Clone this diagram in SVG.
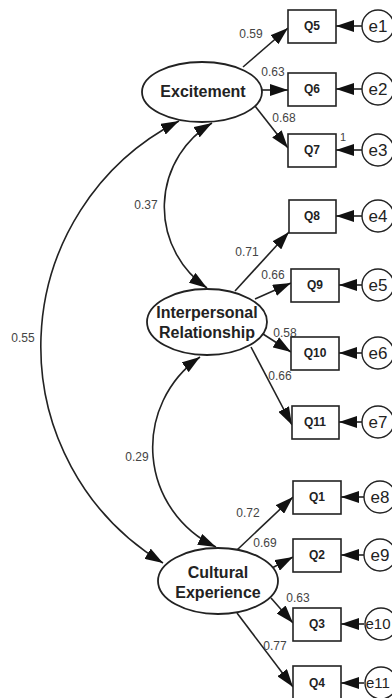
<svg xmlns="http://www.w3.org/2000/svg" width="392" height="698" viewBox="0 0 392 698">
<style>
.lat{fill:#fff;stroke:#222;stroke-width:1.8}
.box{fill:#fff;stroke:#222;stroke-width:1.6}
.err{fill:#fff;stroke:#222;stroke-width:1.4}
.lt{font-family:"Liberation Sans",Arial,sans-serif;font-weight:bold;font-size:16px;fill:#222;text-anchor:middle}
.bt{font-family:"Liberation Sans",Arial,sans-serif;font-weight:bold;font-size:12px;fill:#222;text-anchor:middle}
.et{font-family:"Liberation Sans",Arial,sans-serif;font-size:17px;fill:#222;text-anchor:middle}
.nt{font-family:"Liberation Sans",Arial,sans-serif;font-size:12px;fill:#444;text-anchor:middle}
.ln{fill:none;stroke:#222;stroke-width:1.6}
</style>
<defs>
<marker id="ah" markerWidth="18" markerHeight="12" refX="18" refY="6" orient="auto-start-reverse" markerUnits="userSpaceOnUse">
<path d="M0,0 L18,6 L0,12 z" fill="#111"/>
</marker>
</defs>
<g id="connectors">
<path class="ln" d="M179,121 A253,253 0 0 0 163,563" marker-start="url(#ah)" marker-end="url(#ah)"/>
<path class="ln" d="M212,123 A98,98 0 0 0 207,288" marker-start="url(#ah)" marker-end="url(#ah)"/>
<path class="ln" d="M200,357 A110,110 0 0 0 216,547" marker-start="url(#ah)" marker-end="url(#ah)"/>
<line class="ln" x1="243" y1="67" x2="288" y2="28" marker-end="url(#ah)"/>
<line class="ln" x1="262" y1="90" x2="288" y2="90" marker-end="url(#ah)"/>
<line class="ln" x1="255" y1="106" x2="288" y2="148" marker-end="url(#ah)"/>
<line class="ln" x1="235" y1="291" x2="289" y2="232" marker-end="url(#ah)"/>
<line class="ln" x1="255" y1="299" x2="291" y2="283" marker-end="url(#ah)"/>
<line class="ln" x1="263" y1="334" x2="291" y2="352" marker-end="url(#ah)"/>
<line class="ln" x1="251" y1="347" x2="292" y2="425" marker-end="url(#ah)"/>
<line class="ln" x1="237" y1="550" x2="293" y2="497" marker-end="url(#ah)"/>
<line class="ln" x1="272" y1="568" x2="293" y2="557" marker-end="url(#ah)"/>
<line class="ln" x1="271" y1="598" x2="293" y2="623" marker-end="url(#ah)"/>
<line class="ln" x1="237" y1="613" x2="293" y2="687" marker-end="url(#ah)"/>
<line class="ln" x1="362" y1="26" x2="336" y2="26" marker-end="url(#ah)"/>
<line class="ln" x1="362" y1="89" x2="336" y2="89" marker-end="url(#ah)"/>
<line class="ln" x1="362" y1="150" x2="336" y2="150" marker-end="url(#ah)"/>
<line class="ln" x1="362" y1="216" x2="336" y2="216" marker-end="url(#ah)"/>
<line class="ln" x1="362" y1="285" x2="339" y2="285" marker-end="url(#ah)"/>
<line class="ln" x1="362" y1="353" x2="339" y2="353" marker-end="url(#ah)"/>
<line class="ln" x1="362" y1="422" x2="339" y2="422" marker-end="url(#ah)"/>
<line class="ln" x1="364" y1="497" x2="341" y2="497" marker-end="url(#ah)"/>
<line class="ln" x1="364" y1="555" x2="341" y2="555" marker-end="url(#ah)"/>
<line class="ln" x1="364" y1="624" x2="341" y2="624" marker-end="url(#ah)"/>
<line class="ln" x1="364" y1="683" x2="341" y2="683" marker-end="url(#ah)"/>
<text class="nt" x="251" y="38">0.59</text>
<text class="nt" x="273" y="76">0.63</text>
<text class="nt" x="284" y="122">0.68</text>
<text class="nt" x="343" y="141" style="font-size:11px">1</text>
<text class="nt" x="146" y="209">0.37</text>
<text class="nt" x="247" y="256">0.71</text>
<text class="nt" x="273" y="279">0.66</text>
<text class="nt" x="285" y="337">0.58</text>
<text class="nt" x="280" y="380">0.66</text>
<text class="nt" x="23" y="342">0.55</text>
<text class="nt" x="137" y="461">0.29</text>
<text class="nt" x="248" y="517">0.72</text>
<text class="nt" x="265" y="547">0.69</text>
<text class="nt" x="298" y="602">0.63</text>
<text class="nt" x="275" y="650">0.77</text>
</g>
<g id="excitement"><ellipse class="lat" cx="202" cy="92" rx="60" ry="30"/><text class="lt" x="203" y="97">Excitement</text></g>
<g id="interpersonal"><ellipse class="lat" cx="207" cy="322" rx="60" ry="33"/><text class="lt" x="207" y="318">Interpersonal</text><text class="lt" x="207" y="338">Relationship</text></g>
<g id="cultural"><ellipse class="lat" cx="218" cy="581" rx="60" ry="33"/><text class="lt" x="218" y="578">Cultural</text><text class="lt" x="218" y="598">Experience</text></g>
<g id="Q5"><rect class="box" x="288" y="10" width="48" height="33"/><text class="bt" x="312" y="30">Q5</text></g>
<g id="Q6"><rect class="box" x="288" y="73" width="48" height="33"/><text class="bt" x="312" y="93">Q6</text></g>
<g id="Q7"><rect class="box" x="288" y="134" width="48" height="33"/><text class="bt" x="312" y="154">Q7</text></g>
<g id="Q8"><rect class="box" x="289" y="200" width="47" height="33"/><text class="bt" x="312" y="220">Q8</text></g>
<g id="Q9"><rect class="box" x="291" y="269" width="48" height="33"/><text class="bt" x="315" y="289">Q9</text></g>
<g id="Q10"><rect class="box" x="291" y="337" width="48" height="33"/><text class="bt" x="315" y="357">Q10</text></g>
<g id="Q11"><rect class="box" x="292" y="406" width="47" height="33"/><text class="bt" x="315" y="426">Q11</text></g>
<g id="Q1"><rect class="box" x="293" y="481" width="48" height="33"/><text class="bt" x="317" y="501">Q1</text></g>
<g id="Q2"><rect class="box" x="293" y="539" width="48" height="33"/><text class="bt" x="317" y="559">Q2</text></g>
<g id="Q3"><rect class="box" x="293" y="608" width="48" height="33"/><text class="bt" x="317" y="628">Q3</text></g>
<g id="Q4"><rect class="box" x="293" y="666" width="48" height="33"/><text class="bt" x="317" y="687">Q4</text></g>
<g id="e1"><circle class="err" cx="378" cy="26" r="16"/><text class="et" x="378" y="32">e1</text></g>
<g id="e2"><circle class="err" cx="378" cy="89" r="16"/><text class="et" x="378" y="95">e2</text></g>
<g id="e3"><circle class="err" cx="378" cy="150" r="16"/><text class="et" x="378" y="156">e3</text></g>
<g id="e4"><circle class="err" cx="378" cy="216" r="16"/><text class="et" x="378" y="222">e4</text></g>
<g id="e5"><circle class="err" cx="378" cy="285" r="16"/><text class="et" x="378" y="291">e5</text></g>
<g id="e6"><circle class="err" cx="378" cy="353" r="16"/><text class="et" x="378" y="359">e6</text></g>
<g id="e7"><circle class="err" cx="378" cy="422" r="16"/><text class="et" x="378" y="428">e7</text></g>
<g id="e8"><circle class="err" cx="380" cy="497" r="16"/><text class="et" x="380" y="503">e8</text></g>
<g id="e9"><circle class="err" cx="380" cy="555" r="16"/><text class="et" x="380" y="561">e9</text></g>
<g id="e10"><circle class="err" cx="381" cy="624" r="16"/><text class="et" x="378" y="629" style="font-size:15px">e10</text></g>
<g id="e11"><circle class="err" cx="381" cy="683" r="16"/><text class="et" x="378" y="688" style="font-size:15px">e11</text></g>
</svg>
